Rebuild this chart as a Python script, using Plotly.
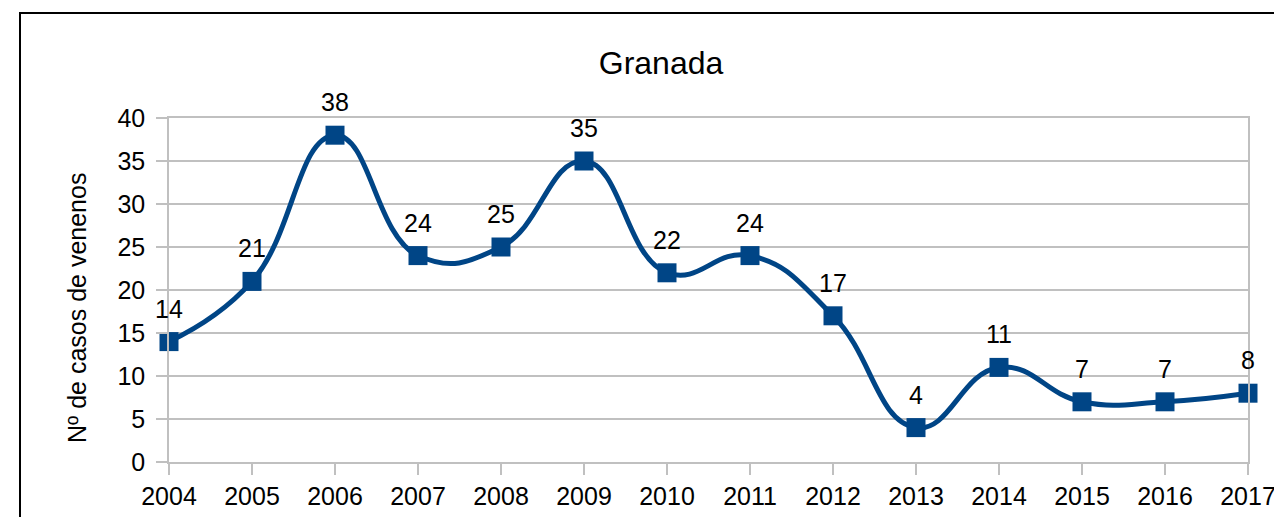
import plotly.graph_objects as go

years = [2004, 2005, 2006, 2007, 2008, 2009, 2010, 2011, 2012, 2013, 2014, 2015, 2016, 2017]
casos = [14, 21, 38, 24, 25, 35, 22, 24, 17, 4, 11, 7, 7, 8]
y_ticks = [0, 5, 10, 15, 20, 25, 30, 35, 40]
title_text = "Granada"
y_title = "Nº de casos de venenos"

FONT = "Liberation Sans, Arial, sans-serif"
BLUE = "#004586"
GRID = "#c0c0c0"

fig = go.Figure()
fig.add_trace(go.Scatter(
    x=years, y=casos,
    mode="lines+markers",
    line=dict(color=BLUE, width=5, shape="spline", smoothing=1.3),
    marker=dict(symbol="square", size=19, color=BLUE),
    cliponaxis=False,
    showlegend=False,
    hoverinfo="skip",
))

L, R, T, B = 169, 26, 118, 55
W, H = 1274, 517
pw = W - L - R
ph = H - T - B

labels = [dict(
    x=xv, y=yv, xref="x", yref="y", text=str(yv), showarrow=False,
    xanchor="center", yanchor="middle", yshift=33,
    font=dict(family=FONT, size=25, color="#000000"),
) for xv, yv in zip(years, casos)]

fig.update_layout(
    width=W, height=H,
    margin=dict(l=L, r=R, t=T, b=B, pad=0, autoexpand=False),
    paper_bgcolor="white",
    plot_bgcolor="white",
    font=dict(family=FONT, size=25, color="#000000"),
    title=dict(text=title_text, font=dict(family=FONT, size=32, color="#000000"),
               x=(661 - L) / pw, xref="paper", xanchor="center",
               y=1 - 63 / H, yref="container", yanchor="middle"),
    xaxis=dict(
        range=[years[0], years[-1]],
        tickmode="array", tickvals=years, ticktext=[str(y) for y in years],
        showgrid=False, zeroline=False, automargin=False,
        ticklabeloverflow="allow",
        showline=True, linecolor=GRID, linewidth=1.5, mirror=True,
        ticks="outside", ticklen=11, tickcolor=GRID, tickwidth=1.5,
        tickfont=dict(family=FONT, size=25, color="#000000"),
    ),
    yaxis=dict(
        range=[0, 40],
        tickmode="array", tickvals=y_ticks,
        showgrid=True, gridcolor=GRID, gridwidth=1.5, zeroline=False,
        automargin=False,
        showline=True, linecolor=GRID, linewidth=1.5, mirror=True,
        ticks="outside", ticklen=11, tickcolor=GRID, tickwidth=1.5,
        ticklabelstandoff=6,
        tickfont=dict(family=FONT, size=25, color="#000000"),
    ),
    annotations=labels + [dict(
        text=y_title, textangle=-90, showarrow=False,
        xref="paper", yref="paper",
        x=(77 - L) / pw, y=(H - B - 308) / ph,
        xanchor="center", yanchor="middle",
        font=dict(family=FONT, size=25, color="#000000"),
    )],
    shapes=[dict(
        type="rect", xref="paper", yref="paper",
        x0=(20 - L) / pw, x1=(1320 - L) / pw,
        y0=(H - B - 560) / ph, y1=(H - B - 13) / ph,
        line=dict(color="#000000", width=2), fillcolor="rgba(0,0,0,0)",
        layer="below",
    )],
)

fig.write_html("out.html", config={"displayModeBar": False},
               post_script="document.body.style.margin='0';document.body.style.overflow='hidden';")
